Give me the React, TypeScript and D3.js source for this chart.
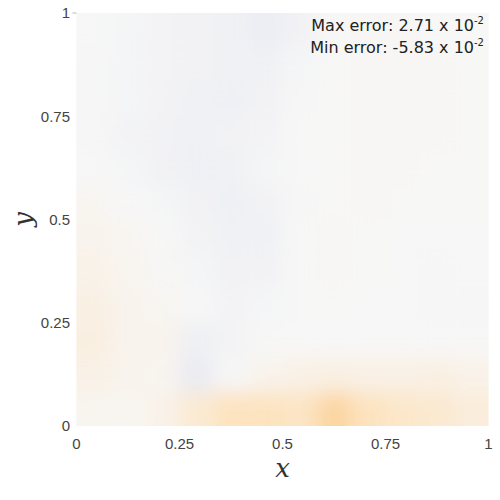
import React, { useRef, useEffect } from 'react';
import * as d3 from 'd3';

// error field, values in units of 1e-2, rows from y=1 (top) down to y=0
const xCells = [0.04, 0.125, 0.21, 0.29, 0.375, 0.46, 0.54, 0.625, 0.71, 0.79, 0.875, 0.96];
const yCells = [0.96, 0.875, 0.79, 0.71, 0.625, 0.54, 0.46, 0.375, 0.29, 0.21, 0.125, 0.04];
const errorRows = [
  [0.0, -0.2, -0.3, -0.4, -0.5, -0.8, -0.4, 0.05, 0.1, 0.1, 0.05, 0.05],
  [-0.1, -0.2, -0.3, -0.4, -0.5, -0.5, -0.2, 0.05, 0.1, 0.1, 0.1, 0.05],
  [-0.1, -0.2, -0.3, -0.5, -0.6, -0.4, -0.1, 0.05, 0.1, 0.1, 0.1, 0.05],
  [-0.1, -0.3, -0.4, -0.5, -0.4, -0.3, 0.0, 0.05, 0.1, 0.1, 0.1, 0.05],
  [0.0, -0.2, -0.4, -0.6, -0.5, -0.2, 0.0, 0.05, 0.1, 0.1, 0.05, 0.05],
  [0.2, 0.0, -0.2, -0.4, -0.6, -0.4, -0.1, 0.05, 0.1, 0.05, 0.05, 0.05],
  [0.4, 0.2, 0.0, -0.3, -0.5, -0.5, 0.0, 0.1, 0.05, 0.0, 0.0, 0.0],
  [0.5, 0.3, 0.1, -0.2, -0.4, -0.4, 0.0, 0.1, 0.05, 0.0, -0.1, 0.0],
  [0.7, 0.4, 0.2, 0.0, -0.3, -0.2, 0.0, 0.05, 0.0, 0.0, -0.1, -0.1],
  [0.8, 0.4, 0.4, -0.6, -0.3, 0.0, 0.0, 0.0, 0.0, 0.0, 0.0, 0.0],
  [0.6, 0.4, 0.3, -1.0, -0.1, 0.4, 0.6, 0.7, 0.6, 0.6, 0.7, 0.5],
  [0.3, 0.2, 0.5, 1.3, 2.0, 2.0, 1.8, 2.71, 2.0, 1.6, 1.4, 1.0],
];
const tickValues = [0, 0.25, 0.5, 0.75, 1];
const tickLabels = ['0', '0.25', '0.5', '0.75', '1'];
const maxError = { mant: '2.71', exp: '-2' };
const minError = { mant: '-5.83', exp: '-2' };

const App = () => {
  const chartRef = useRef<SVGSVGElement>(null);

  useEffect(() => {
    drawChart();
  }, []);

  const drawChart = () => {
    const left = 76.5;
    const right = 488.5;
    const top = 13;
    const bottom = 426;

    const svg = d3.select(chartRef.current);
    svg.selectAll('*').remove();

    const x = d3.scaleLinear().domain([0, 1]).range([left, right]);
    const y = d3.scaleLinear().domain([0, 1]).range([bottom, top]);
    // linear PuOr steps so that zero error is a neutral grey
    const color = d3.scaleDiverging(
      d3.piecewise(d3.interpolateRgb, ['#542788', '#998ec3', '#d8daeb', '#f7f7f7', '#fee0b6', '#f1a340', '#b35806'])
    ).domain([-7, 0, 7]);

    const defs = svg.append('defs');
    defs.append('clipPath').attr('id', 'plotClip')
      .append('rect')
      .attr('x', left).attr('y', top)
      .attr('width', right - left).attr('height', bottom - top);
    defs.append('filter').attr('id', 'smooth')
      .attr('x', '-10%').attr('y', '-10%').attr('width', '120%').attr('height', '120%')
      .append('feGaussianBlur').attr('stdDeviation', 10);

    svg.append('rect')
      .attr('x', left).attr('y', top)
      .attr('width', right - left).attr('height', bottom - top)
      .attr('fill', '#f7f7f7');

    const cw = (right - left) / xCells.length;
    const ch = (bottom - top) / yCells.length;

    const cells = [];
    errorRows.forEach((row, j) => {
      row.forEach((v, i) => cells.push({ cx: xCells[i], cy: yCells[j], v, i, j }));
    });

    const g = svg.append('g').attr('clip-path', 'url(#plotClip)')
      .append('g').attr('filter', 'url(#smooth)');

    // pad edge cells outward so the blur does not fade at the border
    g.selectAll('rect')
      .data(cells)
      .enter()
      .append('rect')
      .attr('x', (d) => x(d.cx) - cw / 2 - (d.i === 0 ? 30 : 0))
      .attr('y', (d) => y(d.cy) - ch / 2 - (d.j === 0 ? 30 : 0))
      .attr('width', (d) => cw + 0.5 + (d.i === 0 || d.i === xCells.length - 1 ? 30 : 0))
      .attr('height', (d) => ch + 0.5 + (d.j === 0 || d.j === yCells.length - 1 ? 30 : 0))
      .attr('fill', (d) => color(d.v));

    const tickFont = '"Liberation Sans", Arial, sans-serif';

    svg.append('g')
      .selectAll('text')
      .data(tickValues)
      .enter()
      .append('text')
      .attr('x', (d) => x(d))
      .attr('y', 449)
      .attr('text-anchor', 'middle')
      .style('font-family', tickFont)
      .style('font-size', '15px')
      .attr('fill', '#444')
      .text((d, i) => tickLabels[i]);

    svg.append('g')
      .selectAll('text')
      .data(tickValues)
      .enter()
      .append('text')
      .attr('x', 70)
      .attr('y', (d) => y(d))
      .attr('dy', '0.35em')
      .attr('text-anchor', 'end')
      .style('font-family', tickFont)
      .style('font-size', '15px')
      .attr('fill', '#444')
      .text((d, i) => tickLabels[i]);

    svg.append('line')
      .attr('x1', left - 4).attr('x2', left)
      .attr('y1', top).attr('y2', top)
      .attr('stroke', '#bbb');

    svg.append('text')
      .attr('x', (left + right) / 2)
      .attr('y', 477)
      .attr('text-anchor', 'middle')
      .style('font-family', '"DejaVu Serif", "Liberation Serif", serif')
      .style('font-style', 'italic')
      .style('font-size', '26px')
      .attr('fill', '#333')
      .text('x');

    svg.append('text')
      .attr('transform', `translate(32,${(top + bottom) / 2}) rotate(-90)`)
      .attr('text-anchor', 'middle')
      .style('font-family', '"DejaVu Serif", "Liberation Serif", serif')
      .style('font-style', 'italic')
      .style('font-size', '26px')
      .attr('fill', '#333')
      .text('y');

    const notes = [
      { label: 'Max error: ', e: maxError, yPos: 31 },
      { label: 'Min error: ', e: minError, yPos: 53 },
    ];
    notes.forEach((n) => {
      const t = svg.append('text')
        .attr('x', 484)
        .attr('y', n.yPos)
        .attr('text-anchor', 'end')
        .style('font-family', '"DejaVu Sans", Verdana, sans-serif')
        .style('font-size', '16px')
        .attr('fill', '#222');
      t.append('tspan').text(`${n.label}${n.e.mant} x 10`);
      t.append('tspan')
        .attr('dy', -7)
        .style('font-size', '10px')
        .text(n.e.exp);
    });
  };

  return (
    <svg
      ref={chartRef}
      width={500}
      height={500}
      style={{ position: 'absolute', left: 0, top: 0, background: '#fff' }}
    />
  );
};

export default App;
